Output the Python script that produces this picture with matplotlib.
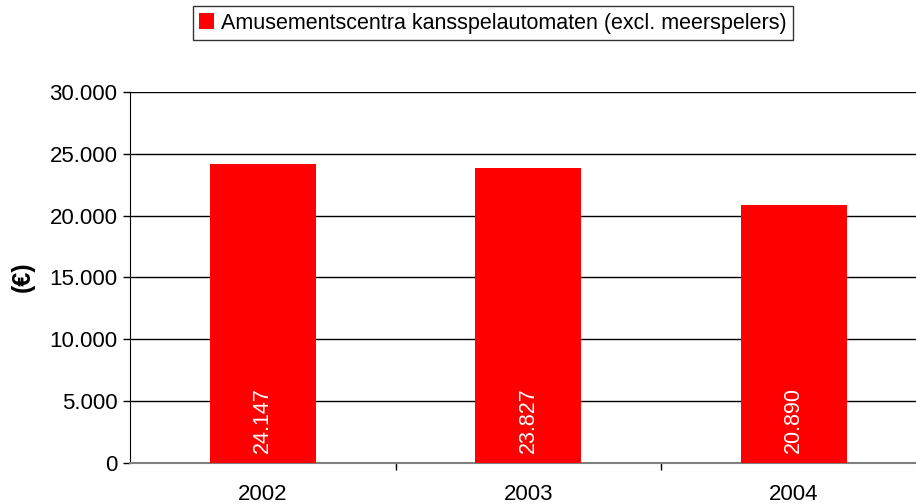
import numpy as np
import matplotlib
matplotlib.use('Agg')
import matplotlib.pyplot as plt
from matplotlib.ticker import FuncFormatter, FixedLocator

plt.rcParams['font.family'] = ['Liberation Sans', 'DejaVu Sans']

years = ['2002', '2003', '2004']
values = [24147, 23827, 20890]
labels = ['24.147', '23.827', '20.890']
series_name = 'Amusementscentra kansspelautomaten (excl. meerspelers)'
yticks = [0, 5000, 10000, 15000, 20000, 25000, 30000]


def dotfmt(v, pos):
    return '{:,.0f}'.format(v).replace(',', '.')


fig = plt.figure(figsize=(9.16, 5.04), dpi=100)
ax = fig.add_axes([130/916, 1-463/504, 796.5/916, 371/504])

x = np.arange(len(years))
bars = ax.bar(x, values, width=0.40, color='#ff0000', zorder=3, label=series_name)

for xi, lab in zip(x, labels):
    ax.annotate(lab, (xi, 0), xytext=(0, 7), textcoords='offset points',
                rotation=90, ha='center', va='bottom', color='white', fontsize=15.5, zorder=4)

ax.set_xlim(-0.5, 2.5)
ax.set_ylim(0, 30000)
ax.set_yticks(yticks)
ax.yaxis.set_major_formatter(FuncFormatter(dotfmt))
ax.grid(axis='y', color='black', linewidth=1, zorder=0)

ax.set_xticks(x)
ax.set_xticklabels(years)
ax.xaxis.set_minor_locator(FixedLocator([0.5, 1.5]))
ax.tick_params(axis='x', which='major', length=0, pad=15, labelsize=16)
ax.tick_params(axis='x', which='minor', length=5, width=1, direction='out')
ax.tick_params(axis='y', length=5, width=1, direction='out', labelsize=16, pad=4)

for s in ['top', 'right']:
    ax.spines[s].set_visible(False)
ax.spines['bottom'].set_color('#808080')
ax.spines['bottom'].set_linewidth(1.5)
ax.spines['left'].set_color('black')

fig.text(23/916, 1-277/504, '(€)', rotation=90, fontsize=18, fontweight='bold',
         ha='center', va='center')

leg = fig.legend(handles=[bars], labels=[series_name], loc='center',
                 bbox_to_anchor=(493/916, 1-23/504), fontsize=15.5, frameon=True,
                 fancybox=False, edgecolor='black', handlelength=0.7, handleheight=0.7,
                 handletextpad=0.3, borderpad=0.3, borderaxespad=0)
leg.get_frame().set_linewidth(1)

fig.savefig('out.png', dpi=100)
